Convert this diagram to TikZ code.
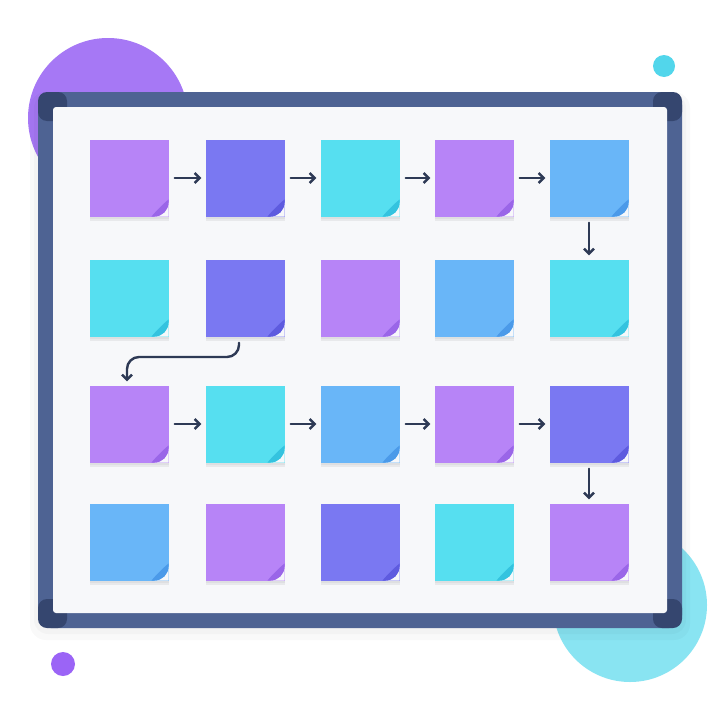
\documentclass[tikz,border=0pt]{standalone}
\usepackage{tikz}
\usetikzlibrary{arrows.meta}

\definecolor{boardbg}{HTML}{F7F8FA}
\definecolor{framecol}{HTML}{4E6393}
\definecolor{cornercol}{HTML}{35466F}
\definecolor{arrowcol}{HTML}{2E3A55}
\definecolor{notepurple}{HTML}{B784F7}
\definecolor{curlpurple}{HTML}{9A66E8}
\definecolor{noteindigo}{HTML}{7A78F2}
\definecolor{curlindigo}{HTML}{5E5BDF}
\definecolor{notecyan}{HTML}{56DFF0}
\definecolor{curlcyan}{HTML}{34C3DF}
\definecolor{noteblue}{HTML}{69B6F8}
\definecolor{curlblue}{HTML}{4B9AE9}
\definecolor{bigpurple}{HTML}{A678F5}
\definecolor{bigcyan}{HTML}{89E4F2}
\definecolor{dotcyan}{HTML}{52D6EB}
\definecolor{dotpurple}{HTML}{9B64F6}

\begin{document}
\begin{tikzpicture}
	[x=1pt, y=-1pt, inner sep=0pt,
	note/.style 2 args	= {rectangle, fill=#1, minimum width=79pt, minimum height=77pt,
		preaction={path picture={}, fill=black, opacity=0.06, transform canvas={yshift=-4pt}},
		preaction={path picture={}, fill=black, opacity=0.04, transform canvas={yshift=-2pt}},
		path picture={
			\fill[boardbg] ([yshift=14pt]path picture bounding box.south east)
				arc[start angle=0, end angle=-90, radius=14pt]
				-- (path picture bounding box.south east) -- cycle;
			\fill[#2] ([yshift=17pt]path picture bounding box.south east)
				.. controls ([xshift=-6pt,yshift=12pt]path picture bounding box.south east)
				and ([xshift=-12pt,yshift=6pt]path picture bounding box.south east)
				.. ([xshift=-17pt]path picture bounding box.south east)
				-- ([xshift=-14pt]path picture bounding box.south east)
				arc[start angle=-90, end angle=0, radius=14pt] -- cycle;
		}},
	pnote/.style	= {note={notepurple}{curlpurple}},
	inote/.style	= {note={noteindigo}{curlindigo}},
	cnote/.style	= {note={notecyan}{curlcyan}},
	bnote/.style	= {note={noteblue}{curlblue}},
	paths/.style	= {-{Straight Barb[length=5pt,width=10pt]}, draw=arrowcol, line width=2.4pt,
		line cap=round, shorten <= 6pt, shorten >= 4pt},
	corner/.style	= {fill=cornercol, rounded corners=9pt}]
	
	\useasboundingbox (0,0) rectangle (720,720);
	\fill[white] (0,0) rectangle (720,720);
	
	% decoration
	\fill[bigpurple] (108,118) circle[radius=80pt];
	\fill[bigcyan] (630,605) circle[radius=77pt];
	\fill[dotcyan] (664,66) circle[radius=11pt];
	\fill[dotpurple] (63,664) circle[radius=12pt];
	
	% whiteboard
	\fill[black, opacity=0.025, rounded corners=16pt] (30,92) rectangle (690,640);
	\fill[black, opacity=0.025, rounded corners=14pt] (34,94) rectangle (686,634);
	\draw[framecol, line width=15pt, rounded corners=6pt] (45.5,99.5) rectangle (674.5,620.5);
	\fill[corner] (38,92) rectangle (67,121);
	\fill[corner] (682,92) rectangle (653,121);
	\fill[corner] (38,628) rectangle (67,599);
	\fill[corner] (682,628) rectangle (653,599);
	\fill[boardbg, rounded corners=3pt] (53,107) rectangle (667,613);
	
	\node at (129, 178)	[pnote]	(n11)	{};
	\node at (245, 178)	[inote]	(n12)	{};
	\node at (360, 178)	[cnote]	(n13)	{};
	\node at (474, 178)	[pnote]	(n14)	{};
	\node at (589, 178)	[bnote]	(n15)	{};
	
	\node at (129, 298)	[cnote]	(n21)	{};
	\node at (245, 298)	[inote]	(n22)	{};
	\node at (360, 298)	[pnote]	(n23)	{};
	\node at (474, 298)	[bnote]	(n24)	{};
	\node at (589, 298)	[cnote]	(n25)	{};
	
	\node at (129, 424)	[pnote]	(n31)	{};
	\node at (245, 424)	[cnote]	(n32)	{};
	\node at (360, 424)	[bnote]	(n33)	{};
	\node at (474, 424)	[pnote]	(n34)	{};
	\node at (589, 424)	[inote]	(n35)	{};
	
	\node at (129, 542)	[bnote]	(n41)	{};
	\node at (245, 542)	[pnote]	(n42)	{};
	\node at (360, 542)	[inote]	(n43)	{};
	\node at (474, 542)	[cnote]	(n44)	{};
	\node at (589, 542)	[pnote]	(n45)	{};
	
	\coordinate (bend) at (127, 357);
	
	\draw [paths] (n11.east) -- (n12.west);
	\draw [paths] (n12.east) -- (n13.west);
	\draw [paths] (n13.east) -- (n14.west);
	\draw [paths] (n14.east) -- (n15.west);
	\draw [paths] (n15.south) -- (n25.north);
	
	\draw [paths, rounded corners=12pt] ([xshift=-6pt]n22.south) |- (bend) -- (bend |- n31.north);
	
	\draw [paths] (n31.east) -- (n32.west);
	\draw [paths] (n32.east) -- (n33.west);
	\draw [paths] (n33.east) -- (n34.west);
	\draw [paths] (n34.east) -- (n35.west);
	\draw [paths] (n35.south) -- (n45.north);
	
\end{tikzpicture}
\end{document}
